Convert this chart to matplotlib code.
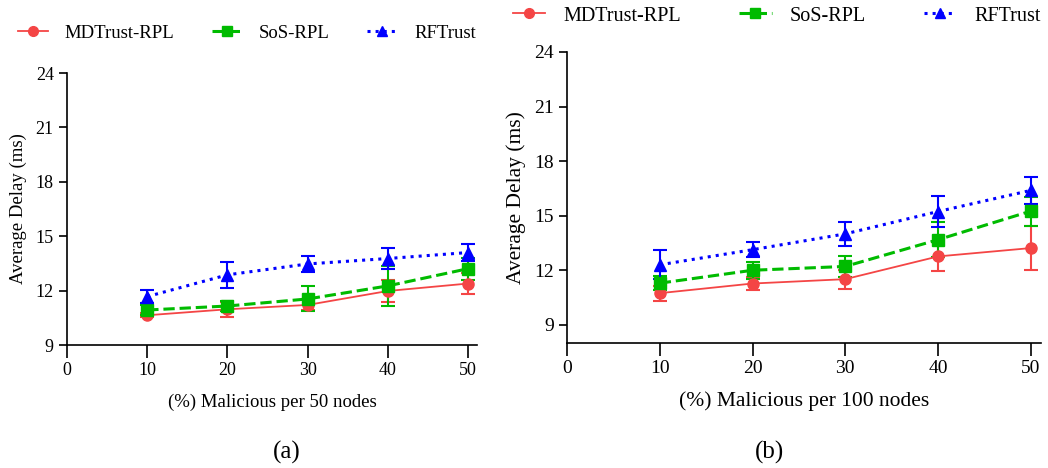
import matplotlib
matplotlib.use("Agg")
import matplotlib.pyplot as plt
from matplotlib.lines import Line2D

plt.rcParams['font.family'] = ['Liberation Serif', 'DejaVu Serif']

x = [10, 20, 30, 40, 50]
series_names = ['MDTrust-RPL', 'SoS-RPL', 'RFTrust']

# (a) 50 nodes
md_50 = [10.64, 10.97, 11.21, 11.98, 12.39]
md_50_err = [0.12, 0.4, 0.3, 0.6, 0.58]
sos_50 = [10.93, 11.15, 11.54, 12.26, 13.21]
sos_50_err = [0.3, 0.25, 0.69, 1.1, 0.6]
rf_50 = [11.67, 12.87, 13.47, 13.77, 14.1]
rf_50_err = [0.35, 0.72, 0.45, 0.56, 0.47]

# (b) 100 nodes
md_100 = [10.74, 11.27, 11.51, 12.76, 13.22]
md_100_err = [0.41, 0.38, 0.53, 0.8, 1.2]
sos_100 = [11.29, 12.0, 12.21, 13.68, 15.25]
sos_100_err = [0.37, 0.46, 0.57, 0.95, 0.8]
rf_100 = [12.3, 13.13, 14.0, 15.23, 16.39]
rf_100_err = [0.8, 0.4, 0.67, 0.85, 0.73]

styles = [
    dict(color='#f44545', marker='o', linestyle='-', lw=1.3),
    dict(color='#00bb00', marker='s', linestyle='--', lw=2.2),
    dict(color='#0000ff', marker='^', linestyle=':', lw=2.2),
]

fig = plt.figure(figsize=(10.48, 4.68), dpi=100)
ax1 = fig.add_axes([67/1048, 1-345/468, 410/1048, 272/468])
ax2 = fig.add_axes([567/1048, 1-343/468, 474/1048, 291/468])


def draw(ax, data, ylim, xlabel, tick_fs, label_fs, leg_fs, leg_pos, colsp):
    handles = []
    for (vals, errs), name, st in zip(data, series_names, styles):
        ax.errorbar(x, vals, yerr=errs, color=st['color'],
                    marker=st['marker'], linestyle=st['linestyle'],
                    linewidth=st['lw'], markersize=8, capsize=5,
                    elinewidth=1.5, capthick=1.5, clip_on=False)
        handles.append(Line2D([], [], color=st['color'], marker=st['marker'],
                              linestyle=st['linestyle'], linewidth=st['lw'],
                              markersize=7, label=name))
    ax.set_xlim(0, 51.1)
    ax.set_ylim(*ylim)
    ax.set_xticks([0, 10, 20, 30, 40, 50])
    ax.set_yticks([9, 12, 15, 18, 21, 24])
    ax.spines['top'].set_visible(False)
    ax.spines['right'].set_visible(False)
    ax.spines['left'].set_linewidth(1.2)
    ax.spines['bottom'].set_linewidth(1.2)
    ax.tick_params(labelsize=tick_fs, width=1.2)
    ax.tick_params(axis='x', length=9)
    ax.tick_params(axis='y', length=6)
    ax.set_xlabel(xlabel, fontsize=label_fs, labelpad=10)
    ax.set_ylabel('Average Delay (ms)', fontsize=label_fs, labelpad=6)
    fig.legend(handles=handles, loc='center left', bbox_to_anchor=leg_pos,
               ncol=3, frameon=False, fontsize=leg_fs, handlelength=1.6,
               handletextpad=0.9, columnspacing=colsp, borderpad=0,
               borderaxespad=0)


draw(ax1, [(md_50, md_50_err), (sos_50, sos_50_err), (rf_50, rf_50_err)],
     (9, 24), '(%) Malicious per 50 nodes', 13, 13.5, 13.5,
     (18/1048, 1-33/468), 2.0)
draw(ax2, [(md_100, md_100_err), (sos_100, sos_100_err), (rf_100, rf_100_err)],
     (8, 24), '(%) Malicious per 100 nodes', 14, 15.5, 14.5,
     (513/1048, 1-16/468), 2.9)

fig.text(287/1048, 1-452/468, '(a)', fontsize=18, ha='center', va='center')
fig.text(770/1048, 1-452/468, '(b)', fontsize=18, ha='center', va='center')

fig.savefig('out.png', dpi=100)
